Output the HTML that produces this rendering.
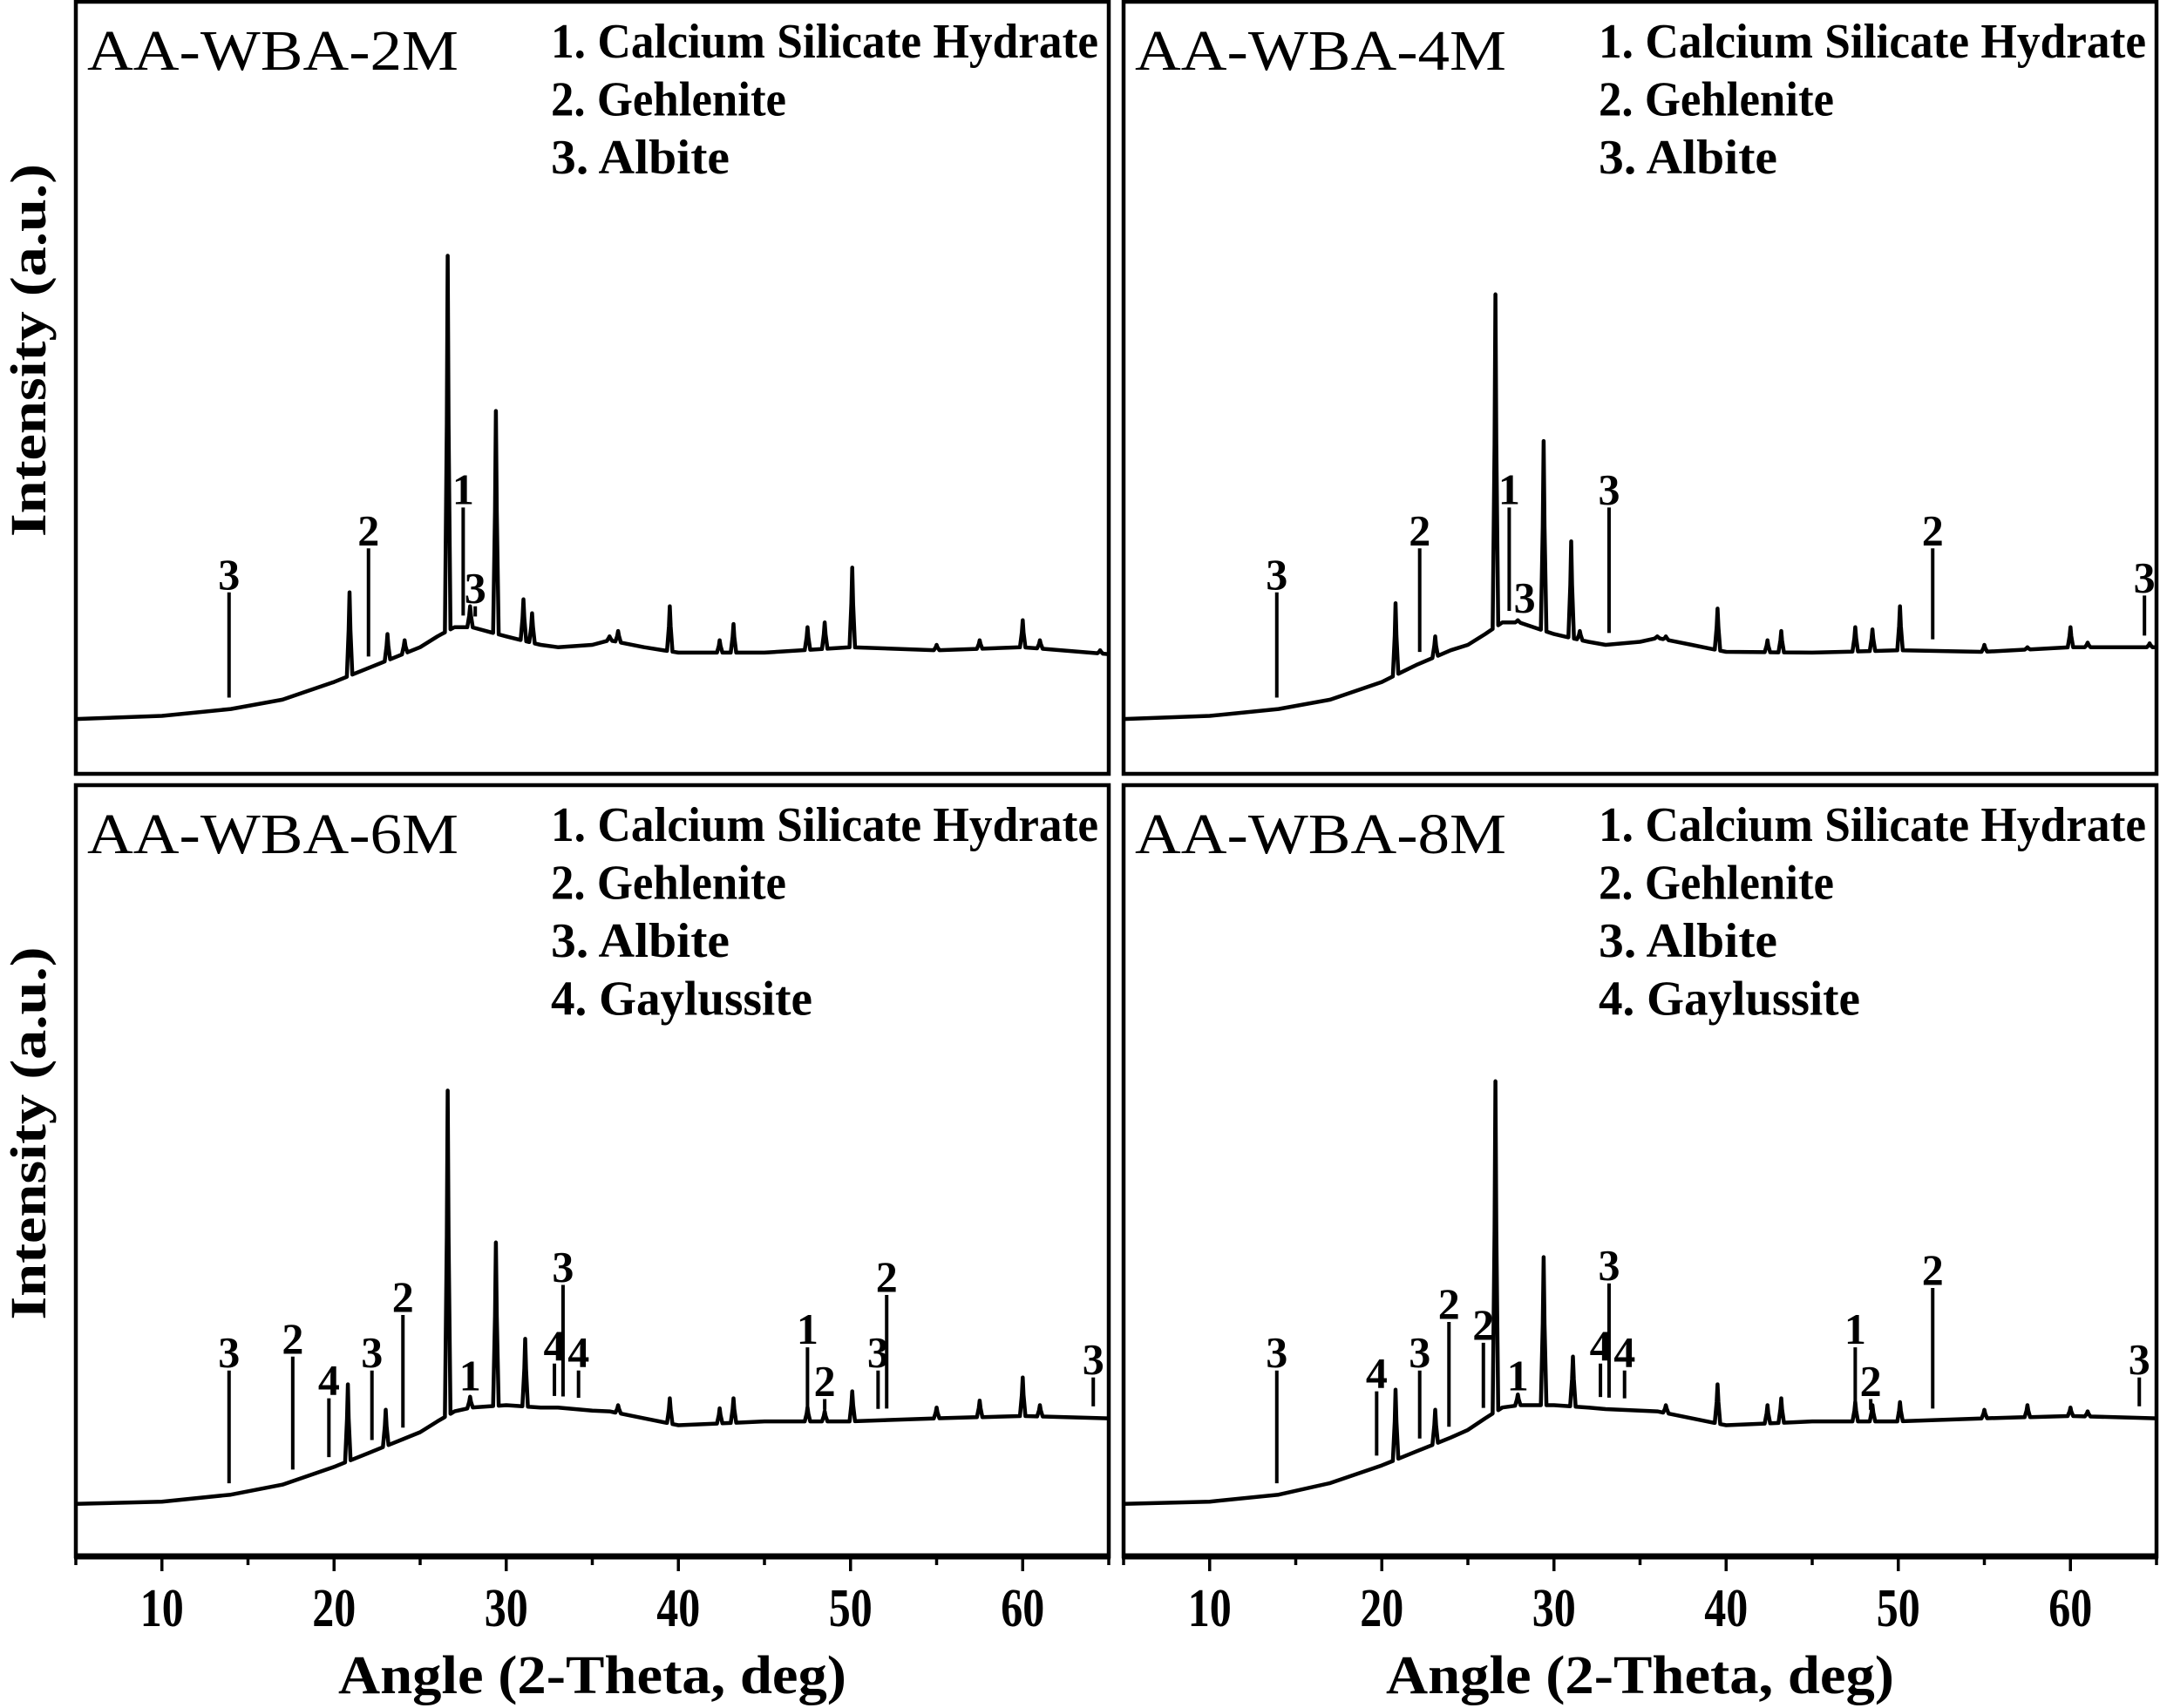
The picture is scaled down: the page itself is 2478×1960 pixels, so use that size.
<!DOCTYPE html>
<html><head><meta charset="utf-8"><style>
html,body{margin:0;padding:0;background:#fff;}
svg{display:block;}
text{font-family:"Liberation Serif",serif;fill:#000;}
</style></head><body>
<svg id="c" width="2478" height="1960" viewBox="0 0 2478 1960" xmlns="http://www.w3.org/2000/svg"></svg>
<script>
const bgAngles=[5,10,14,17,20,22,24,25,26,27,28,30,32,33,35,36,38,40,45,50,55,60,65];
const bgTL=[7.1,7.5,8.4,9.6,11.9,13.7,15.5,16.4,17.8,19.0,19.0,17.8,16.7,16.4,16.7,17.3,16.4,15.7,15.7,16.4,16.0,16.4,15.5];
const bgTR=[7.1,7.5,8.4,9.6,11.9,14.1,16.0,16.7,18.1,19.6,19.6,18.1,17.1,16.7,17.1,17.6,16.7,15.8,15.7,16.0,15.8,16.4,16.4];
const bgBL=[6.8,7.1,8.0,9.3,11.6,13.4,15.2,16.1,17.5,18.8,19.3,19.6,19.3,19.3,18.9,18.8,17.9,17.0,17.5,17.5,17.9,18.2,17.9];
const bgBR=[6.8,7.1,8.0,9.5,11.8,13.6,15.4,16.4,17.9,19.3,19.6,19.6,19.3,19.1,18.9,18.8,17.9,17.0,17.5,17.5,17.9,18.2,17.9];

const pkAngTL=[20.9,23.1,24.1,26.6,27.9,29.4,31.0,31.5,36.0,36.5,39.5,42.4,43.2,47.5,48.5,50.1,55,57.5,60,61,64.5];
const pkTopTL=[23.5,18.1,17.3,67.1,21.7,47.0,22.6,20.8,17.8,18.5,21.7,17.3,19.4,19.0,19.6,26.7,16.7,17.3,19.9,17.3,16.0];
const pkAngTR=[20.8,23.1,26.6,27.9,29.4,31.0,31.5,36.0,36.5,39.5,42.4,43.2,47.5,48.5,50.1,55,57.5,60,61,64.6];
const pkTopTR=[22.1,17.8,62.1,19.9,43.1,30.1,18.5,17.8,17.8,21.4,17.3,18.5,19.0,18.7,21.7,16.7,16.4,19.0,17.0,16.9];
const pkAngBL=[20.8,23.0,26.6,27.9,29.4,31.1,36.5,39.5,42.4,43.2,47.5,48.5,50.1,55,57.5,60,61];
const pkTopBL=[22.3,19.0,60.4,20.7,40.7,28.2,19.6,20.5,19.2,20.5,19.3,18.8,21.4,19.3,20.2,23.2,19.6];
const pkAngBR=[20.8,23.1,26.6,27.9,29.4,31.1,36.5,39.5,42.4,43.2,47.5,48.5,50.1,55,57.5,60,61];
const pkTopBR=[21.6,19.0,61.6,21.0,38.8,25.9,19.6,22.3,19.6,20.5,20.0,19.6,20.0,19.0,19.6,19.3,18.8];

const mkAngTL=[13.9,22.0,27.5,28.2];
const mkLabTL=['3','2','1','3'];
const mkTopTL=[23.5,29.2,34.5,21.7];
const mkAngTR=[13.9,22.2,27.4,28.3,33.2,52.0,64.3];
const mkLabTR=['3','2','1','3','3','2','3'];
const mkTopTR=[23.5,29.2,34.5,20.5,34.5,29.2,23.1];
const mkAngBL=[13.9,17.6,19.7,22.2,24.0,27.9,32.8,33.3,34.2,47.5,48.5,51.6,52.1,64.1];
const mkLabBL=['3','2','4','3','2','1','4','3','4','1','2','3','2','3'];
const mkTopBL=[24.1,25.9,20.5,24.1,31.3,21.1,25.0,35.2,24.1,27.1,20.4,24.1,33.9,23.2];
const mkAngBR=[13.9,19.7,22.2,23.9,25.9,27.9,32.7,33.2,34.1,47.5,48.4,52.0,64.0];
const mkLabBR=['3','4','3','2','2','1','4','3','4','1','2','2','3'];
const mkTopBR=[24.1,21.4,24.1,30.4,27.7,21.1,25.0,35.4,24.1,27.1,20.4,34.8,23.2];

const xTicks=[5,10,15,20,25,30,35,40,45,50,55,60,65];
const xTickLabels=['10','20','30','40','50','60'];
const legend3=['1. Calcium Silicate Hydrate','2. Gehlenite','3. Albite'];
const legend4=['1. Calcium Silicate Hydrate','2. Gehlenite','3. Albite','4. Gaylussite'];

const NS='http://www.w3.org/2000/svg';
const svg=document.getElementById('c');
function mk(tag,attrs,parent){const e=document.createElementNS(NS,tag);for(const k in attrs)e.setAttribute(k,attrs[k]);(parent||svg).appendChild(e);return e;}

const panels=[
 {id:'2m',title:'AA-WBA-2M',x0:87,x1:1272,y0:2,y1:888,bg:bgTL,pa:pkAngTL,pt:pkTopTL,ma:mkAngTL,ml:mkLabTL,mt:mkTopTL,leg:legend3,bottom:false},
 {id:'4m',title:'AA-WBA-4M',x0:1289,x1:2474,y0:2,y1:888,bg:bgTR,pa:pkAngTR,pt:pkTopTR,ma:mkAngTR,ml:mkLabTR,mt:mkTopTR,leg:legend3,bottom:false},
 {id:'6m',title:'AA-WBA-6M',x0:87,x1:1272,y0:901,y1:1786,bg:bgBL,pa:pkAngBL,pt:pkTopBL,ma:mkAngBL,ml:mkLabBL,mt:mkTopBL,leg:legend4,bottom:true},
 {id:'8m',title:'AA-WBA-8M',x0:1289,x1:2474,y0:901,y1:1786,bg:bgBR,pa:pkAngBR,pt:pkTopBR,ma:mkAngBR,ml:mkLabBR,mt:mkTopBR,leg:legend4,bottom:true}
];

function baseAt(bg,a){
  for(let i=0;i<bgAngles.length-1;i++){
    if(a>=bgAngles[i]&&a<=bgAngles[i+1]){const t=(a-bgAngles[i])/(bgAngles[i+1]-bgAngles[i]);return bg[i]+t*(bg[i+1]-bg[i]);}
  }
  return bg[bg.length-1];
}

panels.forEach(p=>{
  const g=mk('g',{});
  
  
  const X=a=>p.x0+(a-5)/60*(p.x1-p.x0);
  const Y=v=>p.y1-v/100*(p.y1-p.y0);
  let pts=bgAngles.map((a,i)=>[a,p.bg[i]]);
  const w=0.16;
  p.pa.forEach((a,i)=>{
    pts=pts.filter(q=>Math.abs(q[0]-a)>w+0.01);
    const b=baseAt(p.bg,a);
    pts.push([a-w,baseAt(p.bg,a-w)]);
    pts.push([a-0.05,b+(p.pt[i]-b)*0.55]);
    pts.push([a,p.pt[i]]);
    pts.push([a+0.05,b+(p.pt[i]-b)*0.55]);
    pts.push([a+w,baseAt(p.bg,a+w)]);
  });
  pts.sort((u,v)=>u[0]-v[0]);
  const d=pts.map((q,i)=>(i?'L':'M')+X(q[0]).toFixed(1)+' '+Y(q[1]).toFixed(1)).join(' ');
  const path=mk('path',{d:d,fill:'none',stroke:'#000','stroke-width':4.5,'stroke-linejoin':'round'},g);
  
  
  p.ma.forEach((a,i)=>{
    const b=baseAt(p.bg,a)+1.5;
    const top=p.mt[i];
    if(top>b+0.5){
      const ln=mk('line',{x1:X(a),x2:X(a),y1:Y(top),y2:Y(b),stroke:'#000','stroke-width':4},g);
      
      
    }
    const t=mk('text',{x:X(a),y:Y(top)-4,'text-anchor':'middle','font-size':50,'font-weight':'bold'},g);
    
    
    t.textContent=p.ml[i];
  });
  const r=mk('rect',{x:p.x0,y:p.y0,width:p.x1-p.x0,height:p.y1-p.y0,fill:'none',stroke:'#000','stroke-width':4.5},g);
  
  
  const tt=mk('text',{x:p.x0+13,y:p.y0+78,'font-size':66,textLength:426,lengthAdjust:'spacingAndGlyphs'},g);
  
  
  tt.textContent=p.title;
  const lens=[628,270,205,300];
  p.leg.forEach((s,i)=>{
    const lt=mk('text',{x:p.x0+545,y:p.y0+64+i*66.5,'font-size':56,'font-weight':'bold',textLength:lens[i],lengthAdjust:'spacingAndGlyphs'},g);
    
    
    lt.textContent=s;
  });
  if(p.bottom){
    const ax=mk('line',{x1:p.x0-2,x2:p.x1+2,y1:p.y1,y2:p.y1,stroke:'#000','stroke-width':7},g);
    
    
    xTicks.forEach(a=>{
      const major=a%10===0;
      const tk=mk('line',{x1:X(a),x2:X(a),y1:p.y1,y2:p.y1+(major?17:10),stroke:'#000','stroke-width':3.5},g);
      
      
    });
    xTickLabels.forEach(s=>{
      const tl=mk('text',{x:X(+s),y:1866,'text-anchor':'middle','font-size':62,'font-weight':'bold',textLength:50,lengthAdjust:'spacingAndGlyphs'},g);
      
      
      tl.textContent=s;
    });
    const xt=mk('text',{x:(p.x0+p.x1)/2,y:1943,'text-anchor':'middle','font-size':62,'font-weight':'bold',textLength:583,lengthAdjust:'spacingAndGlyphs'},g);
    
    
    xt.textContent='Angle (2-Theta, deg)';
  }
  if(p.x0<200){
    const cy=(p.y0+p.y1)/2-43;
    const yt=mk('text',{x:0,y:0,transform:'translate(52,'+cy+') rotate(-90)','text-anchor':'middle','font-size':58,'font-weight':'bold',textLength:428,lengthAdjust:'spacingAndGlyphs'},g);
    
    
    yt.textContent='Intensity (a.u.)';
  }
});
</script>
</body></html>
